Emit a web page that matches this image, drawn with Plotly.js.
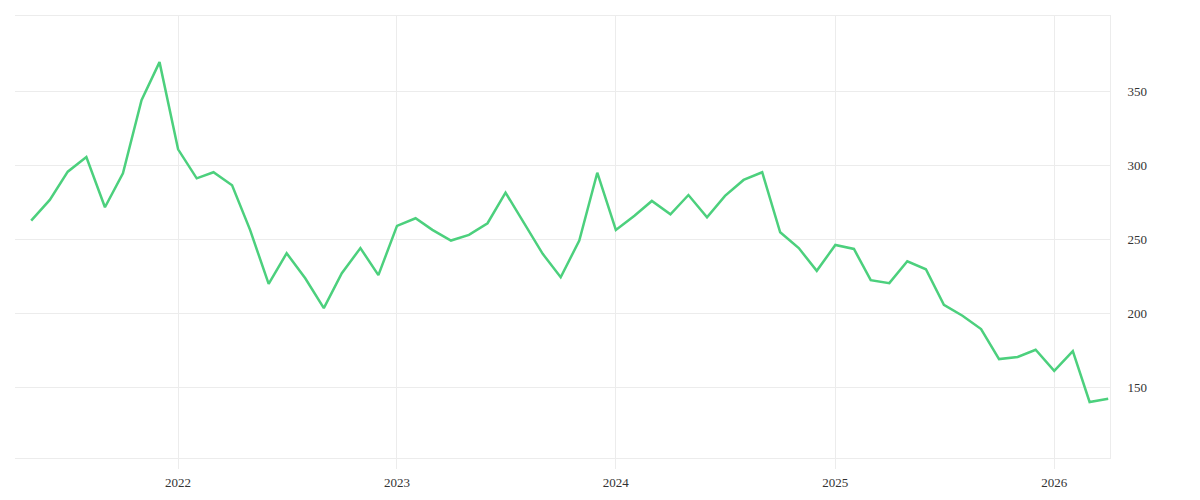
<!DOCTYPE html>
<html>
<head>
<meta charset="utf-8">
<script src="https://cdn.plot.ly/plotly-3.0.1.min.js"></script>
<style>
  html, body { margin: 0; padding: 0; background: #ffffff; }
  #chart { width: 1200px; height: 500px; }
</style>
</head>
<body>
<div id="chart"></div>
<script>
  "use strict";

  // monthly readings, May 2021 -> Apr 2026
  var START_MONTH = "2021-05-01";
  var VALUES = [
    262.6, 276.6, 295.7, 305.6, 271.6, 294.6, 344.1, 369.8,
    310.8, 291.2, 295.3, 286.5, 256.3, 219.8, 240.5, 223.6, 203.4, 227.0, 244.0, 225.7,
    259.0, 264.2, 256.3, 249.1, 252.9, 260.8, 281.5, 260.8, 240.1, 224.3, 249.1, 295.0,
    256.3, 265.9, 275.9, 266.9, 279.9, 264.9, 279.3, 290.1, 295.3, 254.7, 244.0, 228.6,
    246.1, 243.4, 222.3, 220.3, 235.1, 229.7, 205.6, 198.2, 189.2, 168.9, 170.3, 175.2,
    161.0, 174.3, 139.9, 142.1
  ];
  var X_RANGE = ["2021-04-04", "2026-04-04"];
  var Y_RANGE = [102, 401];
  var Y_TICKS = [150, 200, 250, 300, 350];

  var LINE_COLOR = "#4cd07d";
  var GRID_COLOR = "#ececec";
  var TEXT_COLOR = "#333333";

  function monthDates(start, count) {
    var parts = start.split("-");
    var y = +parts[0];
    var m = +parts[1] - 1;
    var out = [];
    for (var i = 0; i < count; i++) {
      var yy = y + Math.floor((m + i) / 12);
      var mm = ((m + i) % 12) + 1;
      out.push(yy + "-" + (mm < 10 ? "0" + mm : mm) + "-01");
    }
    return out;
  }

  var dates = monthDates(START_MONTH, VALUES.length);

  var trace = {
    type: "scatter",
    mode: "lines",
    x: dates,
    y: VALUES,
    line: { color: LINE_COLOR, width: 2.5 },
    hoverinfo: "x+y",
    showlegend: false
  };

  var layout = {
    width: 1200,
    height: 500,
    paper_bgcolor: "#ffffff",
    plot_bgcolor: "#ffffff",
    margin: { l: 15, r: 90, t: 16, b: 42 },
    font: { family: "Liberation Serif, serif", size: 13, color: TEXT_COLOR },
    showlegend: false,
    xaxis: {
      type: "date",
      range: X_RANGE,
      tick0: "2022-01-01",
      dtick: "M12",
      tickformat: "%Y",
      ticks: "outside",
      ticklen: 10,
      tickwidth: 1,
      tickcolor: GRID_COLOR,
      showgrid: true,
      gridcolor: GRID_COLOR,
      gridwidth: 1,
      showline: true,
      linecolor: GRID_COLOR,
      linewidth: 1,
      mirror: true,
      zeroline: false,
      ticklabelstandoff: 2
    },
    xaxis2: {
      type: "date",
      overlaying: "x",
      matches: "x",
      side: "top",
      anchor: "y",
      range: X_RANGE,
      tick0: "2022-01-01",
      dtick: "M12",
      ticks: "outside",
      ticklen: 4,
      tickwidth: 1,
      tickcolor: GRID_COLOR,
      showticklabels: false,
      showgrid: false,
      showline: false,
      zeroline: false
    },
    yaxis: {
      side: "right",
      range: Y_RANGE,
      tickvals: Y_TICKS,
      ticks: "",
      showgrid: true,
      gridcolor: GRID_COLOR,
      gridwidth: 1,
      showline: true,
      linecolor: GRID_COLOR,
      linewidth: 1,
      zeroline: false,
      ticklabelstandoff: 14
    }
  };

  Plotly.newPlot("chart", [trace], layout, { displayModeBar: false, staticPlot: true });
</script>
</body>
</html>
